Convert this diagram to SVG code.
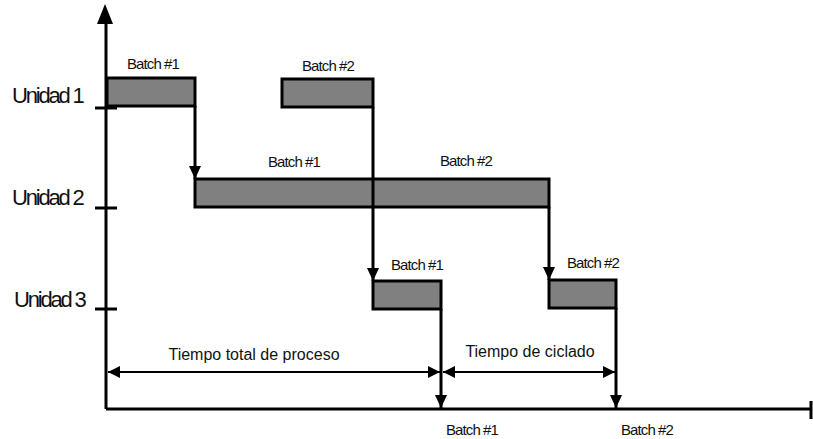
<svg xmlns="http://www.w3.org/2000/svg" width="813" height="439" viewBox="0 0 813 439">
<style>
.bar{fill:#808080;stroke:#000;stroke-width:3}
.ln{stroke:#000;stroke-width:3;fill:none}
.dim{stroke:#000;stroke-width:2;fill:none}
.lbl{font-family:"Liberation Sans",Arial,sans-serif;font-size:15px;letter-spacing:-0.9px;fill:#111}
.unit{font-family:"Liberation Sans",Arial,sans-serif;font-size:22px;letter-spacing:-2.2px;fill:#111}
.note{font-family:"Liberation Sans",Arial,sans-serif;font-size:16px;fill:#111}
</style>
<defs>
<marker id="ah" markerWidth="13" markerHeight="12" refX="13" refY="6" orient="auto-start-reverse" markerUnits="userSpaceOnUse" viewBox="0 0 13 12">
<path d="M0,0 L13,6 L0,12 Z" fill="#000"/>
</marker>
<marker id="dh" markerWidth="12" markerHeight="12" refX="12" refY="6" orient="auto-start-reverse" markerUnits="userSpaceOnUse" viewBox="0 0 12 12">
<path d="M0,0 L12,6 L0,12 Z" fill="#000"/>
</marker>
</defs>
<g id="axes">
<line class="ln" x1="106" y1="409" x2="106" y2="20"/>
<path d="M97,24 L113,24 L105,4 Z" fill="#000"/>
<line class="ln" x1="106" y1="409" x2="811" y2="409"/>
<line class="ln" x1="811" y1="401" x2="811" y2="419"/>
<line class="ln" x1="95" y1="108" x2="117" y2="108"/>
<line class="ln" x1="95" y1="208" x2="117" y2="208"/>
<line class="ln" x1="95" y1="309" x2="117" y2="309"/>
</g>
<g id="unit-labels">
<text class="unit" x="12" y="103">Unidad 1</text>
<text class="unit" x="12" y="205">Unidad 2</text>
<text class="unit" x="14" y="307">Unidad 3</text>
</g>
<g id="u1-b1"><rect class="bar" x="107" y="78" width="88" height="28"/><text class="lbl" x="127" y="69">Batch #1</text></g>
<g id="u1-b2"><rect class="bar" x="282" y="79" width="91" height="28"/><text class="lbl" x="302" y="71">Batch #2</text></g>
<g id="u2"><rect class="bar" x="195" y="179" width="354" height="28"/><text class="lbl" x="268" y="167">Batch #1</text><text class="lbl" x="440" y="166">Batch #2</text></g>
<g id="u3-b1"><rect class="bar" x="373" y="281" width="68" height="28"/><text class="lbl" x="391" y="270">Batch #1</text></g>
<g id="u3-b2"><rect class="bar" x="549" y="280" width="67" height="28"/><text class="lbl" x="567" y="268">Batch #2</text></g>
<g id="connectors">
<line class="ln" x1="195" y1="106" x2="195" y2="179" marker-end="url(#ah)"/>
<line class="ln" x1="373" y1="107" x2="373" y2="281" marker-end="url(#ah)"/>
<line class="ln" x1="549" y1="207" x2="549" y2="280" marker-end="url(#ah)"/>
<line class="ln" x1="441" y1="309" x2="441" y2="408" marker-end="url(#ah)"/>
<line class="ln" x1="616" y1="308" x2="616" y2="408" marker-end="url(#ah)"/>
<line class="dim" x1="108" y1="372" x2="440" y2="372" marker-start="url(#dh)" marker-end="url(#dh)"/>
<line class="dim" x1="443" y1="372" x2="615" y2="372" marker-start="url(#dh)" marker-end="url(#dh)"/>
</g>
<g id="dim-labels">
<text class="note" x="254" y="360" text-anchor="middle">Tiempo total de proceso</text>
<text class="note" x="530" y="357" text-anchor="middle">Tiempo de ciclado</text>
<text class="lbl" x="446" y="435">Batch #1</text>
<text class="lbl" x="621" y="435">Batch #2</text>
</g>
</svg>
